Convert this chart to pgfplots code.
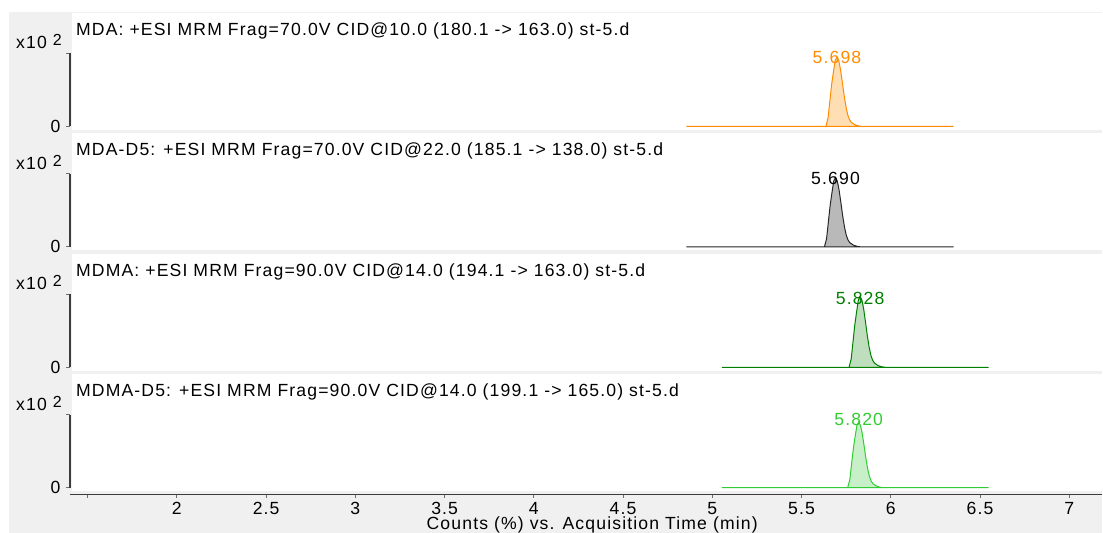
\documentclass[border=0pt]{standalone}
\usepackage{pgfplots}
\pgfplotsset{compat=1.18}
\usepackage{fontspec}
\setmainfont{Liberation Sans}[LetterSpace=6.5]
\definecolor{bg}{RGB}{240,240,240}
\definecolor{axisc}{RGB}{60,60,60}
\definecolor{tickc}{RGB}{110,110,110}
\definecolor{orl}{RGB}{255,140,0}
\definecolor{orf}{RGB}{255,222,180}
\definecolor{bkl}{RGB}{40,40,40}
\definecolor{bkf}{RGB}{185,185,185}
\definecolor{dgl}{RGB}{0,128,0}
\definecolor{dgf}{RGB}{190,222,190}
\definecolor{lgl}{RGB}{50,205,50}
\definecolor{lgf}{RGB}{200,240,200}
\pgfplotsset{
  panel/.style={scale only axis, width=1033pt, height=117pt, anchor=south west,
    xmin=1.401, xmax=7.185, ymin=-0.048, ymax=1.555,
    axis y line*=left, y axis line style={draw=none},
    ytick={0,1}, yticklabels={0,{}}, tick align=outside, major tick length=3.5pt,
    ytick style={color=tickc, line width=1pt}, clip=false,
    /pgf/number format/assume math mode=true},
}
\newcommand{\deco}[1]{%
  \draw[axisc, line width=1.3pt] (axis cs:1.401,0) -- (axis cs:1.401,1);
  \node[anchor=base east, inner sep=0pt] at ([xshift=-8pt,yshift=4.5pt]axis cs:1.401,1) {x10 \raisebox{3pt}{\fontsize{16pt}{18pt}\selectfont 2}};
  \node[anchor=base west, inner sep=0pt] at ([xshift=6pt]axis cs:1.401,1.249) {#1};
}
\begin{document}
\fontsize{17.6pt}{20pt}\selectfont
\begin{tikzpicture}[x=1pt,y=1pt]
\fill[white] (0,0) rectangle (1103,533);
\fill[bg] (9,0) rectangle (1103,521);
\fill[white] (72,403) rectangle (1103,520);
\fill[white] (72,282.5) rectangle (1103,399.5);
\fill[white] (72,162) rectangle (1103,279);
\fill[white] (72,41.5) rectangle (1103,158.5);

% Panel 1: MDA
\begin{axis}[panel, at={(70pt,403pt)}, axis x line=none]
\addplot[draw=orl, fill=orf, line width=1pt] coordinates {
(4.854,0) (5.636,0) (5.648,0.114) (5.658,0.342) (5.668,0.570) (5.678,0.741) (5.688,0.903)
(5.698,0.95) (5.708,0.903) (5.718,0.779) (5.728,0.608) (5.738,0.428) (5.748,0.276)
(5.758,0.162) (5.768,0.095) (5.778,0.057) (5.798,0.024) (5.818,0.008) (5.838,0) (6.352,0)} \closedcycle;
\deco{MDA: +ESI MRM Frag=70.0V CID@10.0 (180.1 -> 163.0) st-5.d}
\node[anchor=base, text=orl] at (axis cs:5.698,0.856) {5.698};
\end{axis}

% Panel 2: MDA-D5
\begin{axis}[panel, at={(70pt,282.5pt)}, axis x line=none]
\addplot[draw=bkl, fill=bkf, line width=1pt] coordinates {
(4.854,0) (5.628,0) (5.640,0.114) (5.650,0.342) (5.660,0.570) (5.670,0.741) (5.680,0.903)
(5.690,0.95) (5.700,0.903) (5.710,0.779) (5.720,0.608) (5.730,0.428) (5.740,0.276)
(5.750,0.162) (5.760,0.095) (5.770,0.057) (5.790,0.024) (5.810,0.008) (5.830,0) (6.352,0)} \closedcycle;
\deco{MDA-D5: +ESI MRM Frag=70.0V CID@22.0 (185.1 -> 138.0) st-5.d}
\node[anchor=base, text=black] at (axis cs:5.690,0.856) {5.690};
\end{axis}

% Panel 3: MDMA
\begin{axis}[panel, at={(70pt,162pt)}, axis x line=none]
\addplot[draw=dgl, fill=dgf, line width=1pt] coordinates {
(5.053,0) (5.766,0) (5.778,0.116) (5.788,0.349) (5.798,0.582) (5.808,0.757) (5.818,0.922)
(5.828,0.97) (5.838,0.922) (5.848,0.795) (5.858,0.621) (5.868,0.437) (5.878,0.281)
(5.888,0.165) (5.898,0.097) (5.908,0.058) (5.928,0.024) (5.948,0.008) (5.968,0) (6.548,0)} \closedcycle;
\deco{MDMA: +ESI MRM Frag=90.0V CID@14.0 (194.1 -> 163.0) st-5.d}
\node[anchor=base, text=dgl] at (axis cs:5.828,0.856) {5.828};
\end{axis}

% Panel 4: MDMA-D5 with time axis
\begin{axis}[panel, at={(70pt,38.5pt)}, height=120pt, ymin=-0.089,
  axis x line*=bottom, x axis line style={draw=axisc, line width=1.3pt},
  xtick={1.5,2,2.5,3,3.5,4,4.5,5,5.5,6,6.5,7},
  xticklabels={{},2,2.5,3,3.5,4,4.5,5,5.5,6,6.5,7},
  xtick style={color=tickc, line width=1pt},
  xticklabel style={inner sep=0pt, yshift=-4pt}]
\addplot[draw=lgl, fill=lgf, line width=1pt] coordinates {
(5.053,0) (5.758,0) (5.770,0.108) (5.780,0.324) (5.790,0.54) (5.800,0.702) (5.810,0.855)
(5.820,0.90) (5.830,0.855) (5.840,0.738) (5.850,0.576) (5.860,0.405) (5.870,0.261)
(5.880,0.153) (5.890,0.09) (5.900,0.054) (5.920,0.0225) (5.940,0.0072) (5.960,0) (6.548,0)} \closedcycle;
\deco{MDMA-D5: +ESI MRM Frag=90.0V CID@14.0 (199.1 -> 165.0) st-5.d}
\node[anchor=base, text=lgl] at (axis cs:5.820,0.856) {5.820};
\end{axis}

\node[anchor=base, inner sep=0pt] at (592.5pt,3.5pt) {Counts (\%) vs. Acquisition Time (min)};
\end{tikzpicture}
\end{document}
